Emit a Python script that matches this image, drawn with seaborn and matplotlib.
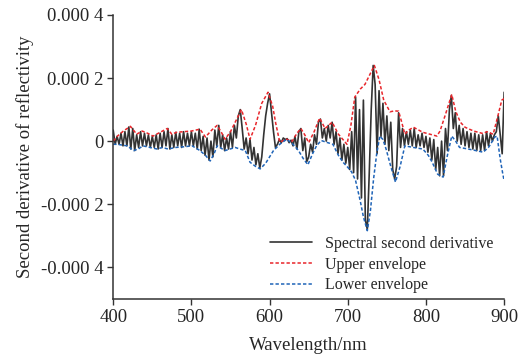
import numpy as np
import seaborn as sns
import matplotlib.pyplot as plt

# wavelength grid (nm) and second-derivative signal in units of 1e-5
wavelength = np.arange(400, 902.5, 2.5)
second_deriv = [
    3.5, -1, 1.5, -1, 2.5, -1.5, 3, -1.5, 4.5, -2.5, 4, -3, 2, -2, 3, -1.5, 2.5, -1.5, 2, -2,
    1.5, -2, 2, -2.5, 2.5, -2, 3, -1.5, 4, -2.5, 2, -2, 2.8, -1.5, 2.5, -2, 3, -1.5, 2.5, -1.5,
    3, -1.5, 2.5, -2.5, 3.8, -3, 1.5, -4.5, 1, -6, 0, -5, 3.5, -1.5, 5, -2, 2, -3, 1, -2.5,
    3, -2, 5, 1, 8, 10, 4, -2.5, 1, -4, 0.5, -6, -2, -7.5, -4, -8.5, -5, 2, 8, 12,
    15, 9, 3, -2, -1, 0.5, -0.5, 1, 0.5, 0.8, -0.5, 0.3, -1.5, 1.5, -2.5, 3, 4, -3, 1, -6.5,
    -5, -1, -3.5, 2, -1, 6, 7, 1, 4, 0, 5, 1, 6, -1, 3, -4, 1, -6, -1, -7,
    -2, -9, 3, -10, 14, -12, 10, -18, 13, -25, -28, -10, 10, 24, 18, -4, 16, 1.5, 12, -1,
    8, -3, 6, -9, -12, -8, 9, -2, 4, -1.5, 3, -1, 3.5, -1.5, 4, -2, 2, -1.5, 2.5, -2,
    1.5, -3.5, 1, -6, 0.5, -9, -2, -11, 0, -11, 4, -3, 10, 14.5, 4, 9, 0, 5, -1, 4,
    -1.5, 3, -2, 2.5, -2.5, 2.5, -3, 2, -3, 2, -3, 3, -1.5, 2.5, 0, 2, 3, 8, 2, -4,
    15.5,
]

# upper envelope knots
upper_wl = [400, 405, 413, 422, 430, 437, 444, 451, 460, 469, 475, 481, 490, 500, 511, 518,
            526, 533, 539, 543, 550, 556, 564, 570, 575, 582, 590, 598, 604, 608, 613, 622,
            629, 635, 640, 645, 650, 657, 664, 671, 680, 688, 699, 704, 709, 716, 722, 728,
            734, 740, 746, 754, 760, 765, 769, 773, 778, 784, 796, 805, 814, 818, 825, 833,
            838, 844, 850, 861, 867, 873, 878, 886, 892, 897, 900]
upper_env = [0, 1.5, 3.2, 4.7, 2.2, 3.2, 2.5, 1.6, 2.8, 4, 2.2, 2.8, 3, 3.2, 3.8, 1.3,
             3.5, 5, 2.5, 0.6, 3, 6, 10, 5.5, 0.6, 5, 12, 15.5, 11, 5.5, -0.3, 0.6,
             0, 2.5, 4, 2, -0.5, 3, 7.3, 4, 6, 2.2, -1, 5, 14, 16.5, 18, 21,
             24, 19.5, 13, 9.3, 9.6, 9.5, 6, 2.2, 3.5, 4.4, 2.8, 2.2, 1.6, 3.2, 8.5, 14.8,
             9.5, 6, 4.4, 3.2, 2.8, 2.4, 3, 2.2, 8, 13, 13.5]

# lower envelope knots
lower_wl = [400, 405, 418, 426, 432, 438, 447, 456, 463, 470, 480, 490, 501, 511, 518, 524,
            529, 533, 543, 556, 562, 569, 575, 582, 588, 595, 605, 613, 622, 630, 637, 643,
            649, 655, 660, 666, 672, 681, 688, 694, 700, 705, 710, 716, 720, 725, 729, 733,
            737, 741, 745, 749, 755, 761, 767, 773, 784, 796, 803, 808, 815, 822, 827, 833,
            838, 843, 854, 864, 873, 880, 884, 888, 891, 895, 898, 900]
lower_env = [-1, -1, -1.5, -3, -2.5, -1.5, -2, -2.5, -2, -2.5, -2, -1.8, -1.5, -3, -4.5, -6.3,
             -4, -1.5, -3, -2, -2.5, -3, -6.7, -8, -8.8, -7, -3, -1, 0.6, -1, -3, -5.5,
             -7.5, -4, -1.5, 0.2, -0.3, -1, -4.5, -6.7, -8.3, -9.8, -12.5, -19, -24, -28.4, -22, -12,
             -4, 1.6, 0.5, -2.5, -8, -13, -8, -1.5, -2, -2.5, -4.5, -6.7, -10.5, -11.4, -5, 1.6,
             0, -2, -2.5, -3, -3.5, -2, -0.4, 1.3, 1.6, -5.7, -10, -12.6]

scale = 1e-5
signal = np.array(second_deriv) * scale
upper = np.array(upper_env) * scale
lower = np.array(lower_env) * scale

sns.set_style("ticks")
plt.rcParams['font.family'] = ['Liberation Serif', 'DejaVu Serif']

fig, ax = plt.subplots(figsize=(5.29, 3.57), dpi=100)
fig.subplots_adjust(left=0.214, right=0.953, bottom=0.163, top=0.958)

sns.lineplot(x=wavelength, y=signal, ax=ax, color='#333333', lw=1.2,
             label='Spectral second derivative')
sns.lineplot(x=upper_wl, y=upper, ax=ax, color='#e8262b', lw=1.1,
             linestyle=(0, (2.2, 1.4)), label='Upper envelope')
sns.lineplot(x=lower_wl, y=lower, ax=ax, color='#1f64b8', lw=1.1,
             linestyle=(0, (2.2, 1.4)), label='Lower envelope')

ax.set_xlim(400, 900)
ax.set_ylim(-0.0005, 0.0004)
ax.set_xticks([400, 500, 600, 700, 800, 900])
ax.set_yticks([0.0004, 0.0002, 0, -0.0002, -0.0004],
              ['0.000 4', '0.000 2', '0', '-0.000 2', '-0.000 4'])
ax.tick_params(labelsize=13.5, length=4, width=1, color='#333333', pad=3)
ax.set_xlabel('Wavelength/nm', fontsize=13.5, labelpad=8)
ax.set_ylabel('Second derivative of reflectivity', fontsize=13.5, labelpad=5)
sns.despine(ax=ax)
for s in ['left', 'bottom']:
    ax.spines[s].set_color('#333333')
    ax.spines[s].set_linewidth(1.1)

ax.legend(loc='lower right', bbox_to_anchor=(1.0, -0.02), frameon=False, fontsize=11.5,
          handlelength=2.6, handletextpad=0.8, labelspacing=0.3, borderaxespad=0.3)

fig.savefig('out.png', dpi=100)
